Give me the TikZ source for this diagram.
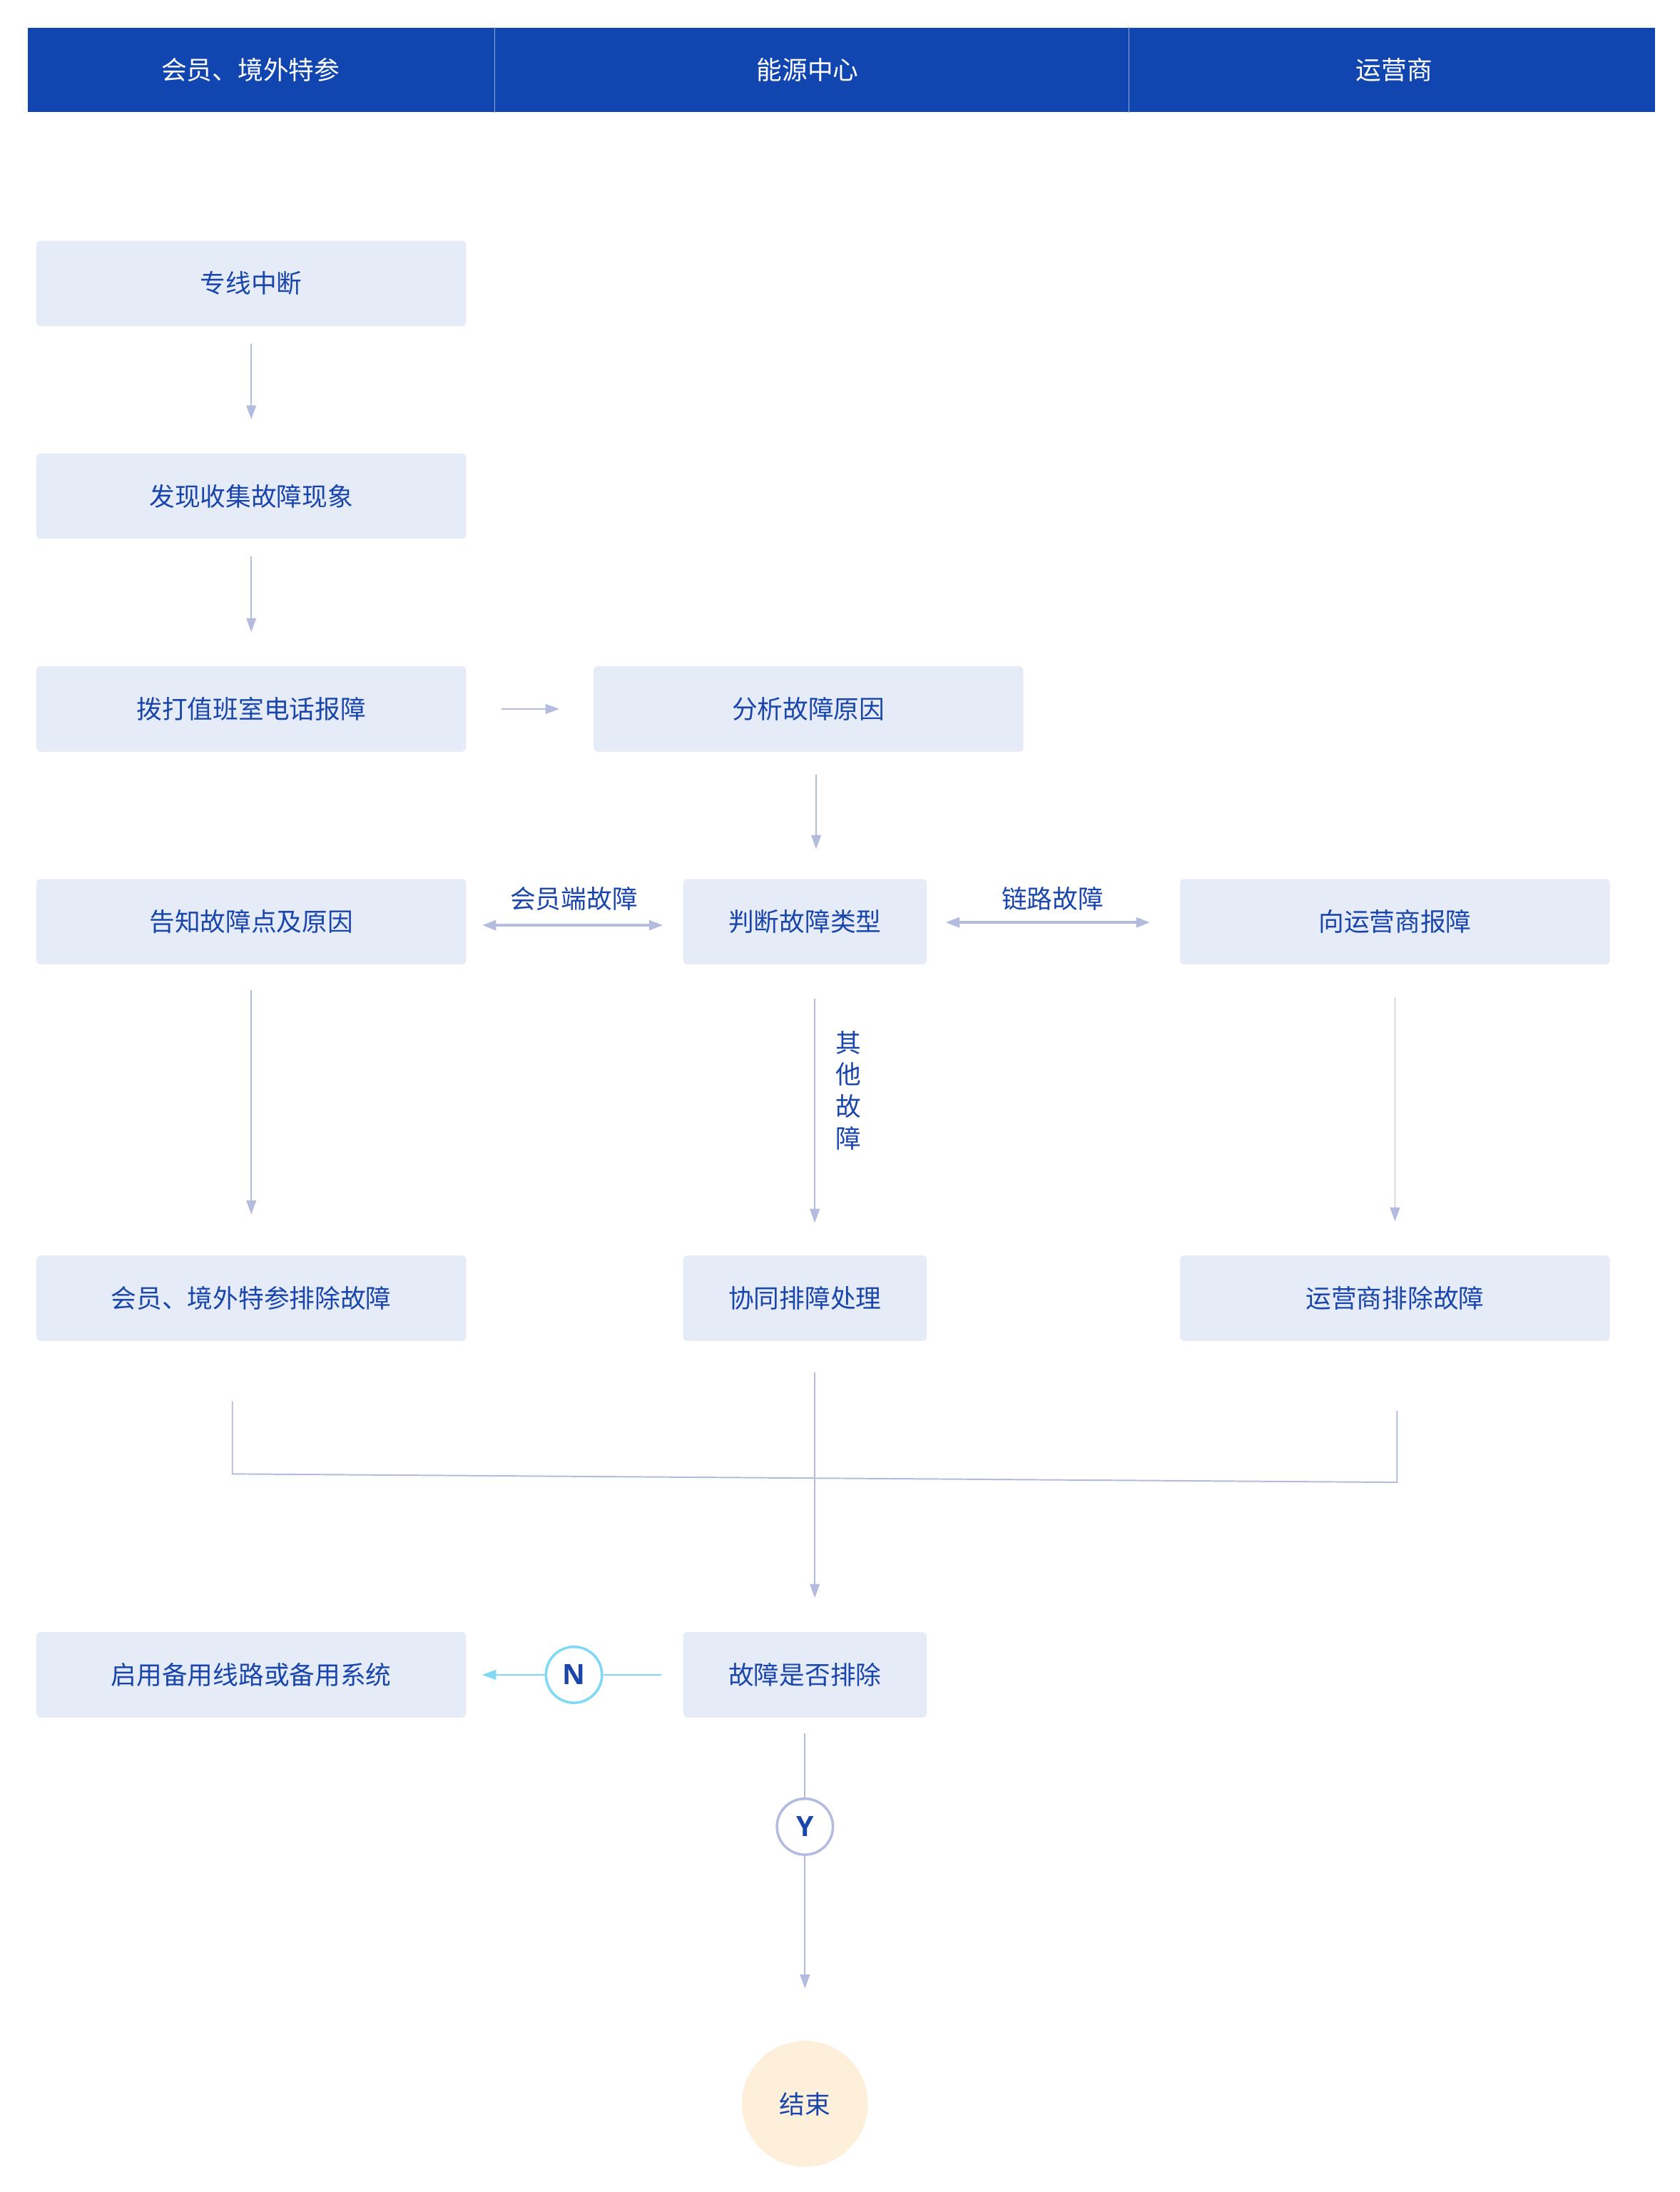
\documentclass[tikz,border=0pt]{standalone}
\usepackage{fontspec}
\setmainfont{Noto Sans CJK SC}
\newfontfamily\latn{Open Sans}
\usetikzlibrary{positioning, arrows.meta, calc}
\definecolor{hdrc}{HTML}{1145AF}
\definecolor{boxc}{HTML}{E5EBF7}
\definecolor{txtc}{HTML}{1A46AC}
\definecolor{lnc}{HTML}{B3BBDF}
\definecolor{cyc}{HTML}{7DD9F6}
\definecolor{endc}{HTML}{FDEFD9}
\newcommand{\hdtxt}[2]{\raisebox{1pt}{\kern#1#2}}
\begin{document}
\begin{tikzpicture}[x=0.5pt, y=-0.5pt,
		font=\fontsize{9.1pt}{11.35pt}\selectfont,
		every edge/.style = {draw=lnc, line width=0.5pt},
		>={Triangle[length=5pt,width=3.5pt]},
		bx/.style = {rectangle, rounded corners=1.5pt, fill=boxc, text=txtc,
			minimum height=30.5pt, minimum width=153.5pt, inner sep=0pt},
		sbx/.style = {bx, minimum width=87pt},
		hd/.style = {rectangle, fill=hdrc, text=white, minimum height=30pt, inner sep=0pt},
		yn/.style = {circle, draw=#1, line width=0.9pt, fill=white, text=txtc,
			minimum size=20pt, inner sep=0pt, font=\latn\bfseries\fontsize{10pt}{12pt}\selectfont},
		lbl/.style = {text=txtc, inner sep=0pt}
	]
		\useasboundingbox (0,0) rectangle (1200,1566);
		% header
		\node(hA) [hd, minimum width=166.5pt] at (186.5,50) {\hdtxt{-7.5pt}{会员、境外特参}};
		\node(hB) [hd, minimum width=226.5pt] at (579.5,50) {\hdtxt{-2.5pt}{能源中心}};
		\node(hC) [hd, minimum width=188pt] at (994,50) {\hdtxt{2pt}{运营商}};
		\draw[white!55!hdrc, line width=0.4pt] (hA.north east) -- (hA.south east)
			(hB.north east) -- (hB.south east);

		\node(s1) [bx] at (179.5,202.5) {专线中断};
		\node(s2) [bx] at (179.5,354.5) {发现收集故障现象};
		\node(s3) [bx] at (179.5,506.5) {拨打值班室电话报障};
		\node(an) [bx] at (577.5,506.5) {分析故障原因};
		\node(tz) [bx] at (179.5,658.5) {告知故障点及原因};
		\node(jd) [sbx] at (575,658.5) {判断故障类型};
		\node(yy) [bx] at (996.5,658.5) {向运营商报障};
		\node(m1) [bx] at (179.5,927.5) {会员、境外特参排除故障};
		\node(co) [sbx] at (575,927.5) {协同排障处理};
		\node(ys) [bx] at (996.5,927.5) {运营商排除故障};
		\node(qy) [bx] at (179.5,1196.5) {启用备用线路或备用系统};
		\node(fi) [sbx] at (575,1196.5) {故障是否排除};
		\node(nn) [yn=cyc] at (410,1196.5) {N};
		\node(yc) [yn=lnc] at (575,1305) {Y};
		\node(en) [circle, fill=endc, text=txtc, minimum size=45pt, inner sep=0pt] at (575,1503) {结束};

		\node(l1) [lbl] at (410,642) {会员端故障};
		\node(l2) [lbl] at (752,642) {链路故障};
		\node(l3) [lbl, align=center] at (606,779) {其\\他\\故\\障};

		\coordinate (mL) at (166,1001);
		\coordinate (mLb) at (166,1053);
		\coordinate (mRb) at (998,1059);
		\coordinate (mR) at (998,1008);

		\path   (s1) edge [->, shorten <=6pt, shorten >=12pt] (s2)
			(s2) edge [->, shorten <=6pt, shorten >=12pt] (s3)
			(s3) edge [->, shorten <=12.5pt, shorten >=12pt] (an)
			([xshift=4pt]an.south -| jd) edge [->, shorten <=8pt, shorten >=10.5pt] ([xshift=4pt]jd.north)
			(tz.east |- 0,661) edge [<->, line width=1pt, shorten <=5.5pt, shorten >=7pt] (jd.west |- 0,661)
			(jd.east |- 0,659) edge [<->, line width=1pt, shorten <=6.5pt, shorten >=10.5pt] (yy.west |- 0,659)
			(tz) edge [->, shorten <=9pt, shorten >=14.5pt] (m1)
			([xshift=3.5pt]jd.south) edge [->, shorten <=12pt, shorten >=11.5pt] ([xshift=3.5pt]co.north)
			(yy) edge [->, shorten <=11.5pt, shorten >=12pt] (ys)
			([xshift=3.5pt]co.south) edge [->, shorten <=11pt, shorten >=12pt] ([xshift=3.5pt]fi.north)
			(fi) edge [draw=cyc, line width=0.6pt, shorten <=7.5pt] (nn)
			(nn) edge [->, draw=cyc, line width=0.6pt, shorten >=5.5pt] (qy)
			(fi) edge [shorten <=5.5pt] (yc)
			(yc) edge [->, shorten >=18.5pt] (en);
		\draw[lnc, line width=0.5pt] (mL) -- (mLb) -- (mRb) -- (mR);
	\end{tikzpicture}
\end{document}
